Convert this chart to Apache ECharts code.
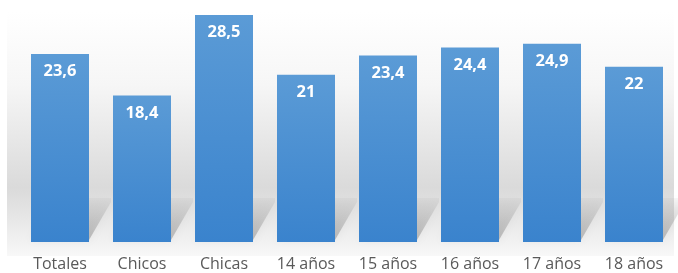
<!DOCTYPE html>
<html>
<head>
<meta charset="utf-8">
<script src="https://cdn.jsdelivr.net/npm/echarts@6/dist/echarts.min.js"></script>
<style>
  html, body { margin: 0; padding: 0; background: #fff; }
  #chart { width: 678px; height: 273px; }
</style>
</head>
<body>
<div id="chart"></div>
<script>
// datos
var categorias = ['Totales', 'Chicos', 'Chicas', '14 años', '15 años', '16 años', '17 años', '18 años'];
var valores = [23.6, 18.4, 28.5, 21, 23.4, 24.4, 24.9, 22];

var chart = echarts.init(document.getElementById('chart'));

chart.setOption({
  animation: false,
  grid: { left: 19, right: 3, top: 3, bottom: 31 },
  // fondo gris degradado (pared del gráfico)
  graphic: [{
    type: 'rect',
    z: -10,
    shape: { x: 7, y: 12, width: 667, height: 244 },
    style: {
      fill: new echarts.graphic.LinearGradient(0, 0, 0, 1, [
        { offset: 0, color: '#ffffff' },
        { offset: 0.3, color: '#f6f6f6' },
        { offset: 0.72, color: '#dadada' },
        { offset: 0.82, color: '#e4e4e4' },
        { offset: 1, color: '#f8f8f8' }
      ])
    }
  }],
  xAxis: {
    type: 'category',
    data: categorias,
    axisLine: { show: false },
    axisTick: { show: false },
    axisLabel: {
      color: '#595959',
      fontFamily: 'Open Sans',
      fontSize: 16,
      margin: 14
    }
  },
  yAxis: {
    type: 'value',
    min: 0,
    max: 30,
    show: false,
    splitLine: { show: false }
  },
  series: [
    {
      // sombra proyectada detras de cada barra
      type: 'custom',
      z: 1,
      silent: true,
      data: valores,
      renderItem: function (params, api) {
        var p0 = api.coord([api.value(0), 0]);
        var w = api.size([1, 0])[0] * 58 / 82;
        var xl = p0[0] - w / 2, xr = p0[0] + w / 2, yb = p0[1];
        return {
          type: 'polygon',
          shape: {
            points: [[xl, yb - 2], [xr, yb - 2], [xr + 22, yb - 40], [xr + 22, yb - 44], [xl + 22, yb - 44]]
          },
          style: {
            fill: new echarts.graphic.LinearGradient(0, 0, 0, 1, [
              { offset: 0, color: 'rgba(0,0,0,0.03)' },
              { offset: 1, color: 'rgba(0,0,0,0.22)' }
            ]),
            shadowBlur: 8,
            shadowColor: 'rgba(0,0,0,0.25)'
          }
        };
      }
    },
    {
      type: 'bar',
      z: 2,
      barWidth: 58,
      data: valores,
      itemStyle: {
        color: new echarts.graphic.LinearGradient(0, 0, 0, 1, [
          { offset: 0, color: '#5b9bd6' },
          { offset: 1, color: '#3a83cd' }
        ])
      },
      label: {
        show: true,
        position: 'insideTop',
        distance: 9,
        color: '#ffffff',
        fontFamily: 'Open Sans',
        fontWeight: 'bold',
        fontSize: 16.5,
        formatter: function (p) {
          return String(p.value).replace('.', ',');
        }
      }
    }
  ]
});
</script>
</body>
</html>
